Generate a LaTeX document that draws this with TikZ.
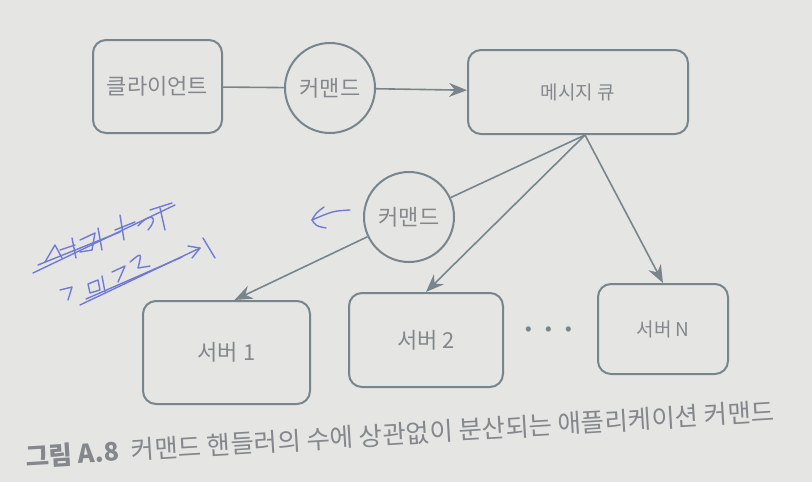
\documentclass[tikz,border=0pt]{standalone}
\usepackage{fontspec}
\setmainfont{Noto Sans CJK KR}
\usepackage{xcolor}
\usetikzlibrary{arrows.meta}
\definecolor{paper}{RGB}{229,230,228}
\definecolor{edge}{RGB}{120,133,140}
\definecolor{ink}{RGB}{132,136,140}
\definecolor{pen}{RGB}{112,122,214}
\tikzset{
    box/.style={ draw=edge, line width=2pt, rounded corners=13pt, text=ink, font=\fontsize{22}{24}\selectfont },
    cmd/.style={ draw=edge, line width=2pt, circle, minimum size=90pt, inner sep=0pt, text=ink, font=\fontsize{22}{24}\selectfont },
    link/.style={ edge, line width=1.6pt },
    flow/.style={ link, -{Stealth[length=18pt,width=14pt,inset=6pt]} },
    scrawl/.style={ pen, line width=1.4pt, line cap=round, line join=round }
}

\begin{document}
\begin{tikzpicture}[x=1pt,y=-1pt]
        \useasboundingbox (0,0) rectangle (812,482);
        \fill[paper] (0,0) rectangle (812,482);

        \node[box, minimum width=129pt, minimum height=93pt] (client) at (157.5,86.5) {클라이언트};
        \node[cmd] (cmdA) at (330,88) {커맨드};
        \node[box, minimum width=220pt, minimum height=84pt, font=\fontsize{19}{20}\selectfont] (queue) at (578,92) {메시지 큐};
        \node[cmd] (cmdB) at (409,217) {커맨드};
        \node[box, minimum width=167pt, minimum height=103pt] (srvA) at (226.5,352.5) {서버 1};
        \node[box, minimum width=154pt, minimum height=94pt] (srvB) at (426,340) {서버 2};
        \node[box, minimum width=130pt, minimum height=90pt, font=\fontsize{19}{20}\selectfont] (srvN) at (663,329) {서버 N};
        \node[text=edge, font=\fontsize{24}{24}\bfseries] (dots) at (549,333) {· · ·};

        \coordinate (qout) at ([xshift=7pt]queue.south);
        \coordinate (inA) at ([xshift=8pt]srvA.north);

        \draw[link] (client) -- (cmdA);
        \draw[flow] (cmdA) -- (queue);
        \draw[link] (qout) -- (cmdB);
        \draw[flow] (cmdB) -- (inA);
        \draw[flow] (qout) -- (srvB.north);
        \draw[flow] (qout) -- (srvN.north);

        \node[anchor=west, rotate=3.5, text=ink, font=\fontsize{25.5}{26}\selectfont] (caption) at (22,457)
            {{\bfseries 그림 A.8}\hspace{12pt}커맨드 핸들러의 수에 상관없이 분산되는 애플리케이션 커맨드};

        % pen marks
        \draw[scrawl] (350,210) .. controls (333,211) .. (312,220);
        \draw[scrawl] (324,207) .. controls (316,213) .. (312,220) .. controls (316,226) .. (326,228);
        \draw[scrawl] (33,273) -- (175,205);
        \draw[scrawl] (38,265) -- (120,232);
        \draw[scrawl] (45,262) -- (55,245) -- (62,258);
        \draw[scrawl] (60,250) -- (75,245);
        \draw[scrawl] (72,238) -- (76,258);
        \draw[scrawl] (80,240) -- (95,233) -- (92,250) -- (80,252);
        \draw[scrawl] (98,228) -- (102,250);
        \draw[scrawl] (115,230) -- (135,222);
        \draw[scrawl] (120,215) -- (124,240);
        \draw[scrawl] (138,226) .. controls (150,212) and (160,216) .. (148,230);
        \draw[scrawl] (160,208) -- (165,230);
        \draw[scrawl] (150,210) -- (172,203);
        \draw[scrawl] (60,290) -- (72,287) -- (68,300);
        \draw[scrawl] (88,284) -- (98,280) -- (100,290) -- (90,293) -- cycle;
        \draw[scrawl] (102,276) -- (105,292);
        \draw[scrawl] (112,272) -- (125,266) -- (118,282);
        \draw[scrawl] (130,262) .. controls (142,252) .. (138,268) -- (150,266);
        \draw[scrawl] (80,305) -- (200,248);
        \draw[scrawl] (86,299) -- (182,257);
        \draw[scrawl] (188,246) -- (200,248) -- (192,258);
        \draw[scrawl] (203,238) -- (215,258);
\end{tikzpicture}
\end{document}
